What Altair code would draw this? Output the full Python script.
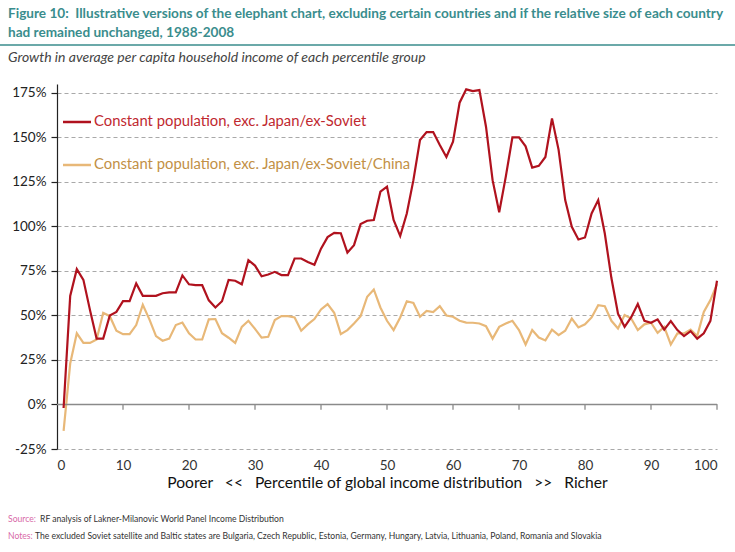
import altair as alt
import pandas as pd

# ---------------- data ----------------
percentile = list(range(1, 101))

series_names = [
    "Constant population, exc. Japan/ex-Soviet",
    "Constant population, exc. Japan/ex-Soviet/China",
]

growth_exc_japan_soviet = [
    -2, 61, 76, 70, 53, 37, 37, 50, 52, 58,
    58, 68, 61, 61, 61, 62.5, 63, 63, 72.5, 67.5,
    67, 67, 58.5, 54.5, 58, 70, 69.5, 67.5, 81, 78,
    72, 73, 74.5, 72.7, 72.7, 82, 82, 80, 78.5, 87.5,
    94, 96.4, 96.2, 85.3, 89.5, 101.3, 103.2, 103.6, 119.5, 122.3,
    103.6, 94.6, 107.3, 126, 148.5, 153, 153, 145.7, 139, 147.6,
    169.5, 177, 176, 176.6, 156, 126, 108, 128, 150, 150,
    145, 133, 134, 139, 160.7, 143, 114.8, 99.8, 92.7, 93.8,
    107.3, 114.8, 96, 71, 51, 43.6, 49, 56.4, 47, 45.9,
    47.8, 42, 46.8, 41.8, 38.4, 41.2, 37, 40, 47, 69.5,
]

growth_exc_japan_soviet_china = [
    -14.8, 23, 40, 34.6, 34.6, 36.5, 51.5, 49.6, 41.4, 39.5,
    39.5, 44.6, 56, 47.8, 38.4, 35.8, 37, 44.6, 46, 40,
    36.5, 36.5, 47.8, 48, 40, 37.5, 34.6, 43.6, 47, 42.5,
    37.6, 38, 47.4, 49.6, 49.6, 48.9, 41.4, 45, 48, 53.4,
    56.4, 51.5, 39.5, 41.8, 45.5, 49.6, 60.5, 64.6, 54.5, 47,
    41.8, 48.9, 58, 57, 49.3, 52.6, 51.9, 55.2, 50, 49.3,
    47, 46, 45.9, 45.5, 44, 37, 43.6, 45.5, 47, 41.8,
    33.7, 41.8, 37.6, 36, 42, 39, 41.4, 48.3, 43.3, 45,
    48.9, 55.8, 55.2, 47, 42.7, 50.2, 48.3, 41.8, 45, 45.9,
    40.3, 43.6, 33.7, 39.9, 39.9, 42, 38.4, 52, 58.6, 67.6,
]

x_ticks = list(range(0, 101, 10))
y_ticks = [-25, 0, 25, 50, 75, 100, 125, 150, 175]

title_lines = [
    "Figure 10:\u00a0\u00a0Illustrative versions of the elephant chart, excluding certain countries and if the relative size of each country",
    "had remained unchanged, 1988-2008",
]
subtitle = "Growth in average per capita household income of each percentile group"
x_title = ("Poorer\u00a0\u00a0\u00a0<<\u00a0\u00a0\u00a0Percentile of global income distribution"
           "\u00a0\u00a0\u00a0>>\u00a0\u00a0\u00a0Richer")
source_label = "Source:"
source_text = "RF analysis of Lakner-Milanovic World Panel Income Distribution"
notes_label = "Notes:"
notes_text = ("The excluded Soviet satellite and Baltic states are Bulgaria, Czech Republic, Estonia, "
              "Germany, Hungary, Latvia, Lithuania, Poland, Romania and Slovakia")

# ---------------- styling ----------------
RED = "#b0121e"
TAN = "#e8b878"
RED_TXT = "#c0282f"
TAN_TXT = "#c29045"
TEAL = "#3a8d8d"
FONT = "Lato"

df_red = pd.DataFrame({"percentile": percentile, "growth": growth_exc_japan_soviet})
df_tan = pd.DataFrame({"percentile": percentile, "growth": growth_exc_japan_soviet_china})
df_ticks = pd.DataFrame({"x": x_ticks[1:]})
one = alt.Data(values=[{}])

x_scale = alt.Scale(domain=[0, 100], nice=False)
y_scale = alt.Scale(domain=[-25, 180], nice=False, zero=False)

x_enc = alt.X(
    "percentile:Q", scale=x_scale,
    axis=alt.Axis(values=x_ticks, domain=False, ticks=False, grid=False,
                  labelFont=FONT, labelFontSize=13.5, labelColor="#333",
                  labelPadding=9, title=x_title, titleFont=FONT, titleFontSize=15.6,
                  titleFontWeight="normal", titleColor="#111", titlePadding=4),
)
y_enc = alt.Y(
    "growth:Q", scale=y_scale,
    axis=alt.Axis(values=y_ticks, labelExpr="datum.value + '%'", grid=True,
                  gridDash=[4, 3], gridColor="#a9a9a9", gridWidth=1.2,
                  domainColor="#222", domainWidth=1.2, tickColor="#222",
                  tickSize=6, tickWidth=1.2, labelFont=FONT, labelFontSize=13.5,
                  labelColor="#222", labelPadding=5, title=None),
)

tan_line = alt.Chart(df_tan).mark_line(color=TAN, strokeWidth=2.2).encode(x=x_enc, y=y_enc)
red_line = alt.Chart(df_red).mark_line(color=RED, strokeWidth=2.2).encode(
    x="percentile:Q", y="growth:Q")

zero_line = alt.Chart(one).mark_rule(color="#8a8a8a", strokeWidth=1.3).encode(y=alt.datum(0))
zero_ticks = alt.Chart(df_ticks).mark_rule(color="#8a8a8a", strokeWidth=1.3).encode(
    x="x:Q", y=alt.datum(0), y2=alt.datum(-3))


def text(t, x, y, **kw):
    style = dict(align="left", baseline="middle", font=FONT)
    style.update(kw)
    return alt.Chart(one).mark_text(**style).encode(
        x=alt.value(x), y=alt.value(y), text=alt.value(t))


def hrule(x1, x2, y, **kw):
    return alt.Chart(one).mark_rule(**kw).encode(
        x=alt.value(x1), x2=alt.value(x2), y=alt.value(y))


decor = [
    text(title_lines[0], -49, -70, fontSize=13.6, fontWeight="bold", color=TEAL),
    text(title_lines[1], -49, -51, fontSize=13.6, fontWeight="bold", color=TEAL),
    hrule(-57, 678, -39, color=TEAL, strokeWidth=1.5),
    text(subtitle, -49, -26, fontSize=14, fontStyle="italic", color="#444"),
    hrule(6, 34, 38, color=RED, strokeWidth=2.5),
    text(series_names[0], 37, 38, fontSize=14.8, color=RED_TXT),
    hrule(6, 34, 81, color=TAN, strokeWidth=2.5),
    text(series_names[1], 37, 81, fontSize=14.8, color=TAN_TXT),
    text(source_label, -49, 435, fontSize=8.6, color="#d86aa8"),
    text(source_text, -17, 435, fontSize=8.6, color="#333"),
    text(notes_label, -49, 452, fontSize=8.6, color="#d86aa8"),
    text(notes_text, -22, 452, fontSize=8.6, color="#333"),
]

chart = alt.layer(tan_line, zero_line, zero_ticks, red_line, *decor).properties(
    width=660, height=365,
    autosize=alt.AutoSizeParams(type="none"),
    padding={"left": 57, "top": 84, "right": 18, "bottom": 103},
    background="white",
).configure_view(stroke=None)

chart.save("out.html", embed_options={"renderer": "svg", "actions": False})
